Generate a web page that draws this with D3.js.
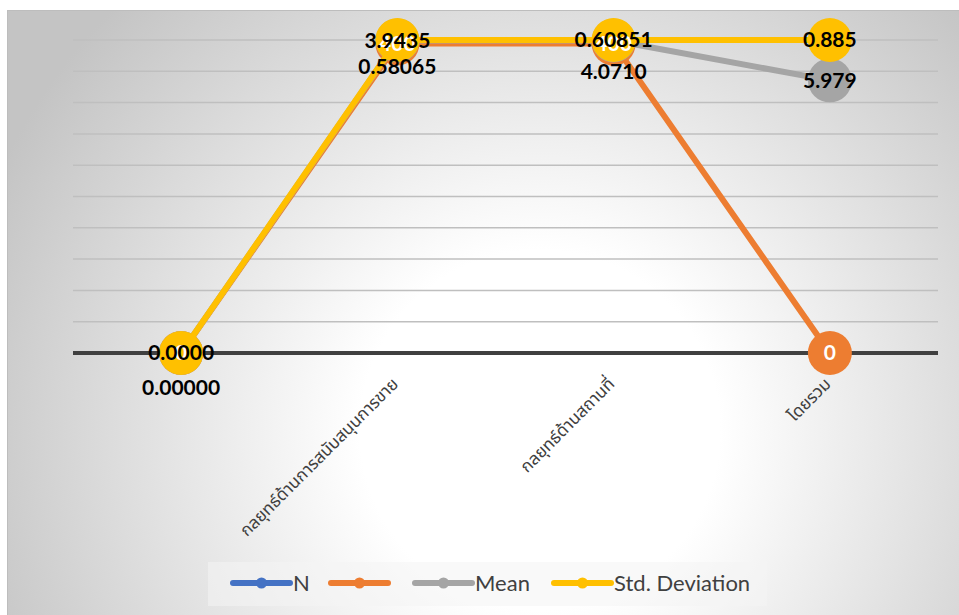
<!DOCTYPE html>
<html>
<head>
<meta charset="utf-8">
<script src="https://cdn.jsdelivr.net/npm/d3@7"></script>
<style>
  html, body { margin: 0; padding: 0; background: #ffffff; }
  svg { display: block; }
</style>
</head>
<body>
<svg id="chart" width="959" height="615"></svg>
<script>
// ---- data ----
const categories = ["", "กลยุทธ์ด้านการสนับสนุนการขาย", "กลยุทธ์ด้านสถานที่", "โดยรวม"];
const seriesNames = ["N", "", "Mean", "Std. Deviation"];
const nValues    = [null, null, null, null];
const col2Values = [0, 400, 400, 0];
const meanValues = [0, 3.9435, 4.0710, 5.979];
const sdValues   = [0, 0.58065, 0.60851, 0.885];
const meanLabels = ["0.0000", "3.9435", "4.0710", "5.979"];
const sdLabels   = ["0.00000", "0.58065", "0.60851", "0.885"];
const col2Labels = ["0", "400", "400", "0"];
const gridTicks  = [0.1, 0.2, 0.3, 0.4, 0.5, 0.6, 0.7, 0.8, 0.9, 1.0];

// ---- styling ----
const colors = ["#4472C4", "#ED7D31", "#A5A5A5", "#FFC000"];
const svg = d3.select("#chart");

const defs = svg.append("defs");
const rg = defs.append("radialGradient").attr("id", "bg")
  .attr("gradientUnits", "userSpaceOnUse")
  .attr("cx", 540).attr("cy", 430).attr("r", 600);
rg.append("stop").attr("offset", "0").attr("stop-color", "#ffffff");
rg.append("stop").attr("offset", "0.3").attr("stop-color", "#ffffff");
rg.append("stop").attr("offset", "1").attr("stop-color", "#c4c4c4");

svg.append("rect").attr("x", 7.5).attr("y", 10.5).attr("width", 960).attr("height", 610)
  .attr("fill", "url(#bg)").attr("stroke", "#bdbdbd").attr("stroke-width", 1);

// scales
const x = d3.scalePoint().domain(d3.range(categories.length)).range([73, 938]).padding(0.5);
const y = d3.scaleLinear().domain([0, 1]).range([353, 40]);

// gridlines
svg.append("g").selectAll("line").data(gridTicks).join("line")
  .attr("x1", 73).attr("x2", 938)
  .attr("y1", d => y(d)).attr("y2", d => y(d))
  .attr("stroke", "#bfbfbf").attr("stroke-width", 1.5);

// 100% stacked values
const raw = [nValues, col2Values, meanValues, sdValues];
const totals = categories.map((_, i) => d3.sum(raw, s => s[i] || 0));
const cum = raw.map((s, k) => categories.map((_, i) => {
  const t = totals[i];
  if (!t) return 0;
  return d3.sum(raw.slice(0, k + 1), r => r[i] || 0) / t;
}));

// category axis (baseline)
const xAxis = d3.axisBottom(x).tickSize(0).tickFormat(() => "");
const axG = svg.append("g").attr("transform", `translate(0,${y(0)})`).call(xAxis);
axG.select(".domain").attr("d", "M73,0H938").attr("stroke", "#404040").attr("stroke-width", 4);

// category labels
svg.append("g").selectAll("text").data(categories).join("text")
  .attr("transform", (d, i) => `translate(${x(i) + 2},${y(0) + 32}) rotate(-45)`)
  .attr("text-anchor", "end")
  .attr("font-family", "'Noto Sans Thai', 'Noto Sans', 'DejaVu Sans', sans-serif")
  .attr("font-size", 17)
  .attr("fill", "#404040")
  .text(d => d);

// lines and markers per series (skip series with no values)
const line = d3.line().x((d, i) => x(i)).y(d => y(d));
raw.forEach((s, k) => {
  if (s.every(v => v === null)) return;
  const g = svg.append("g");
  g.append("path").datum(cum[k]).attr("d", line)
    .attr("fill", "none").attr("stroke", colors[k]).attr("stroke-width", 6)
    .attr("stroke-linejoin", "round").attr("stroke-linecap", "round");
  g.selectAll("circle").data(cum[k]).join("circle")
    .attr("cx", (d, i) => x(i)).attr("cy", d => y(d)).attr("r", 22)
    .attr("fill", colors[k]);
});

// data labels
const labelFont = "Lato, 'Open Sans', sans-serif";
const meanDy = [0, 0, 31, 0];
const sdDy = [35, 27, 0, 0];
function labels(texts, dys, color, k) {
  svg.append("g").selectAll("text").data(texts).join("text")
    .attr("x", (d, i) => x(i))
    .attr("y", (d, i) => y(cum[k][i]) + dys[i])
    .attr("dy", "0.35em")
    .attr("text-anchor", "middle")
    .attr("font-family", labelFont).attr("font-weight", 700).attr("font-size", 21)
    .attr("fill", color)
    .text(d => d);
}
labels(col2Labels, [0, 0, 0, 0], "#ffffff", 1);
labels(meanLabels, meanDy, "#000000", 2);
labels(sdLabels, sdDy, "#000000", 3);

// legend
const lg = svg.append("g");
lg.append("rect").attr("x", 208).attr("y", 562).attr("width", 559).attr("height", 44)
  .attr("fill", "#f4f4f4").attr("fill-opacity", 0.55);
const legendX = [233, 331, 415, 554];
seriesNames.forEach((name, k) => {
  const g = lg.append("g").attr("transform", `translate(${legendX[k]},583)`);
  g.append("line").attr("x1", 0).attr("x2", 57).attr("y1", 0).attr("y2", 0)
    .attr("stroke", colors[k]).attr("stroke-width", 6).attr("stroke-linecap", "round");
  g.append("circle").attr("cx", 28.5).attr("cy", 0).attr("r", 5.5).attr("fill", colors[k]);
  g.append("text").attr("x", 60).attr("y", 0).attr("dy", "0.35em")
    .attr("font-family", labelFont).attr("font-size", 22).attr("fill", "#404040")
    .text(name);
});
</script>
</body>
</html>
